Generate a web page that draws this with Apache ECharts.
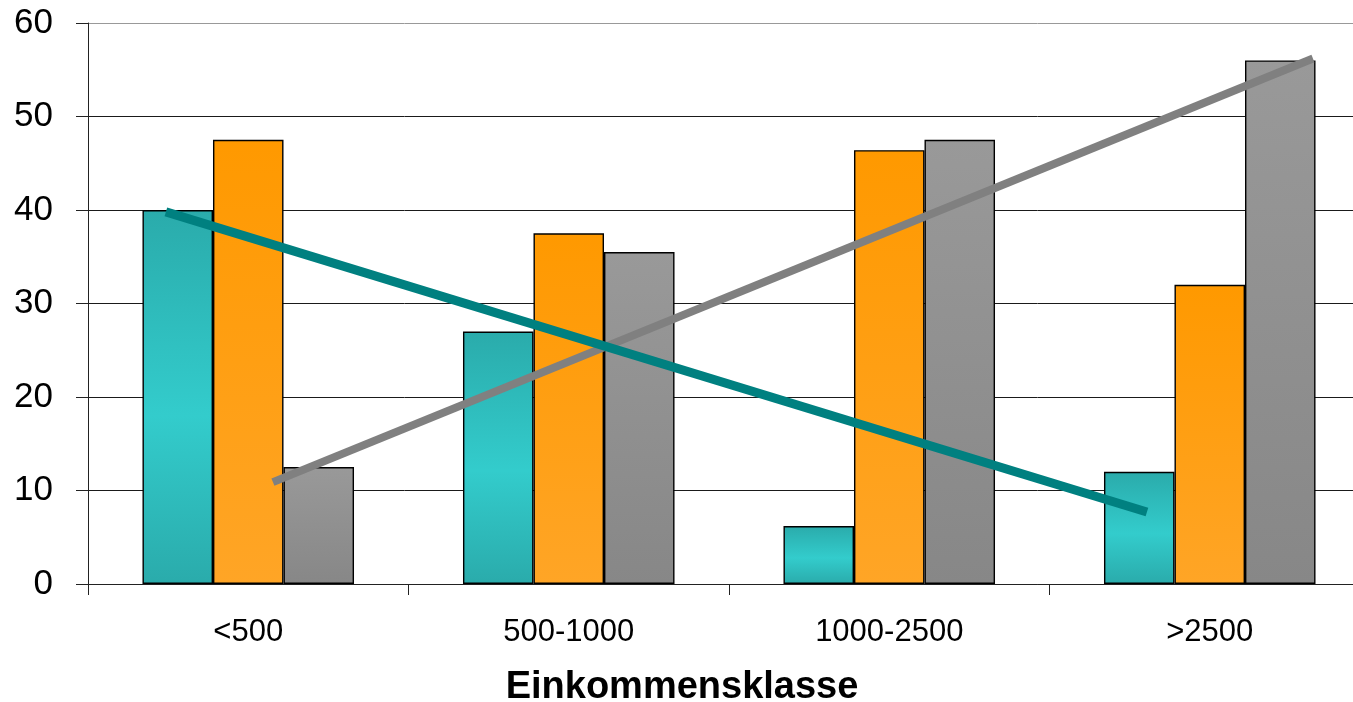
<!DOCTYPE html>
<html>
<head>
<meta charset="utf-8">
<script src="https://cdn.jsdelivr.net/npm/echarts@6/dist/echarts.min.js"></script>
<style>
  html, body { margin: 0; padding: 0; background: #fff; overflow: hidden; }
  #chart { width: 100vw; height: 100vh; }
</style>
</head>
<body>
<div id="chart"></div>
<script>
// Income classes on the category axis
var categories = ['<500', '500-1000', '1000-2500', '>2500'];

// Bar values per income class
var tealValues = [40, 27, 6.2, 12];
var orangeValues = [47.5, 37.5, 46.4, 32];
var grayValues = [12.5, 35.5, 47.5, 56];

// Y axis ticks
var yTicks = [0, 10, 20, 30, 40, 50, 60];

// Trend line endpoints: [category position, value]
var tealTrend = [[-0.257, 39.8], [2.804, 7.7]];
var grayTrend = [[0.077, 10.9], [3.322, 56.2]];

var axisTitle = 'Einkommensklasse';

function vGrad(stops) {
  return new echarts.graphic.LinearGradient(0, 0, 0, 1, stops);
}

var chart = echarts.init(document.getElementById('chart'), null, { renderer: 'canvas' });

var barBorder = { borderColor: '#000', borderWidth: 1.4 };
var fontFamily = 'Liberation Sans, Arial, sans-serif';

chart.setOption({
  animation: false,
  backgroundColor: '#ffffff',
  textStyle: { fontFamily: fontFamily },
  grid: {
    left: 88, top: 23, width: 1282, height: 561,
    containLabel: false,
    outerBoundsMode: 'none'
  },
  xAxis: [
    {
      type: 'category',
      data: categories,
      boundaryGap: true,
      axisLine: { show: true, lineStyle: { color: '#222', width: 1 } },
      axisTick: { show: true, length: 11, lineStyle: { color: '#222', width: 1 } },
      axisLabel: { color: '#000', fontSize: 31, margin: 33, fontFamily: fontFamily },
      name: axisTitle,
      nameLocation: 'middle',
      nameGap: 85,
      nameTextStyle: {
        color: '#000', fontSize: 38, fontWeight: 'bold', fontFamily: fontFamily,
        padding: [0, 94, 0, 0]
      }
    },
    {
      // positions the trend lines in category units (0 = first class centre)
      type: 'value',
      min: -0.5,
      max: 3.5,
      show: false
    }
  ],
  yAxis: {
    type: 'value',
    min: yTicks[0],
    max: yTicks[yTicks.length - 1],
    interval: yTicks[1] - yTicks[0],
    axisLine: { show: true, onZero: false, lineStyle: { color: '#222', width: 1 } },
    axisTick: { show: true, length: 12, lineStyle: { color: '#222', width: 1 } },
    axisLabel: { color: '#000', fontSize: 35, margin: 35, fontFamily: fontFamily },
    splitLine: {
      show: true,
      lineStyle: { color: ['#1a1a1a', '#1a1a1a', '#1a1a1a', '#1a1a1a', '#1a1a1a', '#1a1a1a', '#999'], width: 1 }
    }
  },
  series: [
    {
      name: 'teal',
      type: 'bar',
      data: tealValues,
      barGap: '0%',
      barCategoryGap: '34%',
      itemStyle: Object.assign({
        color: vGrad([
          { offset: 0, color: '#2aabab' },
          { offset: 0.55, color: '#33cccc' },
          { offset: 1, color: '#2aabab' }
        ])
      }, barBorder)
    },
    {
      name: 'orange',
      type: 'bar',
      data: orangeValues,
      itemStyle: Object.assign({
        color: vGrad([
          { offset: 0, color: '#ff9900' },
          { offset: 1, color: '#ffa526' }
        ])
      }, barBorder)
    },
    {
      name: 'gray',
      type: 'bar',
      data: grayValues,
      itemStyle: Object.assign({
        color: vGrad([
          { offset: 0, color: '#999999' },
          { offset: 1, color: '#878787' }
        ])
      }, barBorder)
    },
    {
      name: 'grayTrend',
      type: 'line',
      xAxisIndex: 1,
      data: grayTrend,
      symbol: 'none',
      z: 5,
      lineStyle: { color: '#808080', width: 8, cap: 'butt' }
    },
    {
      name: 'tealTrend',
      type: 'line',
      xAxisIndex: 1,
      data: tealTrend,
      symbol: 'none',
      z: 6,
      lineStyle: { color: '#008080', width: 9, cap: 'butt' }
    }
  ]
});
</script>
</body>
</html>
